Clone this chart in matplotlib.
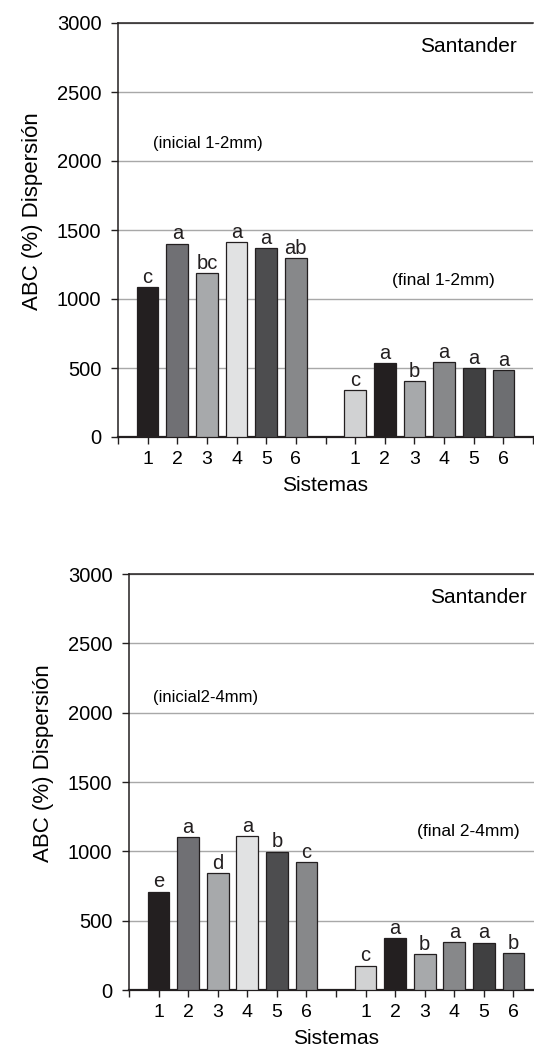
import numpy as np
import matplotlib.pyplot as plt

plt.rcParams['font.family'] = ['Liberation Sans', 'DejaVu Sans']

sistemas = ['1', '2', '3', '4', '5', '6']

# panel 1-2 mm
ini_12 = [1087, 1402, 1190, 1412, 1369, 1296]
fin_12 = [337, 537, 405, 540, 501, 482]
let_ini_12 = ['c', 'a', 'bc', 'a', 'a', 'ab']
let_fin_12 = ['c', 'a', 'b', 'a', 'a', 'a']

# panel 2-4 mm
ini_24 = [710, 1104, 842, 1107, 998, 921]
fin_24 = [176, 375, 262, 346, 342, 269]
let_ini_24 = ['e', 'a', 'd', 'a', 'b', 'c']
let_fin_24 = ['c', 'a', 'b', 'a', 'a', 'b']

col_ini = ['#231f20', '#707074', '#a7a9ab', '#e1e2e3', '#4d4d4f', '#87888a']
col_fin = ['#d1d2d3', '#231f20', '#a7a9ab', '#87888a', '#404041', '#6d6e71']
dark = '#231f20'


def panel(ax, ini, fin, let_ini, let_fin, lab_ini, lab_fin, pos_ini, pos_fin):
    x1 = np.arange(1, 7)
    x2 = np.arange(8, 14)
    ax.bar(x1, ini, width=0.73, color=col_ini, edgecolor=dark, linewidth=0.9, zorder=3)
    ax.bar(x2, fin, width=0.73, color=col_fin, edgecolor=dark, linewidth=0.9, zorder=3)
    for x, v, l in list(zip(x1, ini, let_ini)) + list(zip(x2, fin, let_fin)):
        ax.annotate(l, (x, v), xytext=(0, 3), textcoords='offset points',
                    ha='center', va='baseline', fontsize=14.5, color=dark)

    ax.set_xlim(0, 14)
    ax.set_ylim(0, 3000)
    ax.set_yticks(np.arange(0, 3001, 500))
    ax.set_xticks(list(x1) + list(x2))
    ax.set_xticklabels(sistemas + sistemas, fontsize=14)
    ax.set_xticks([0, 7, 14], minor=True)
    ax.tick_params(axis='x', which='both', direction='out', length=5, width=1, pad=5, color=dark)
    ax.tick_params(axis='y', direction='out', length=5, width=1, pad=7, labelsize=14.5, color=dark)
    ax.yaxis.grid(True, color='#a8a8a8', linewidth=1, zorder=0)
    ax.spines['right'].set_visible(False)
    for s in ['left', 'top']:
        ax.spines[s].set_color(dark)
        ax.spines[s].set_linewidth(1.1)
    ax.spines['bottom'].set_color(dark)
    ax.spines['bottom'].set_linewidth(1.6)
    ax.set_ylabel('ABC (%) Dispersión', fontsize=16)
    ax.yaxis.set_label_coords(-0.181, 0.545)
    ax.set_xlabel('Sistemas', fontsize=15)
    ax.xaxis.set_label_coords(0.5, -0.094)

    ax.text(0.96, 0.931, 'Santander', transform=ax.transAxes, ha='right', va='baseline', fontsize=15)
    ax.text(pos_ini[0], pos_ini[1], lab_ini, transform=ax.transAxes, ha='left', va='center', fontsize=12)
    ax.text(pos_fin[0], pos_fin[1], lab_fin, transform=ax.transAxes, ha='left', va='center', fontsize=12.5)


W, H = 534, 1057
fig = plt.figure(figsize=(W / 100, H / 100), dpi=100)
ax1 = fig.add_axes([118 / W, 1 - 437 / H, 415 / W, 414 / H])
ax2 = fig.add_axes([129 / W, 1 - 990 / H, 414 / W, 416 / H])

panel(ax1, ini_12, fin_12, let_ini_12, let_fin_12, '(inicial 1-2mm)', '(final 1-2mm)',
      (0.084, 0.708), (0.661, 0.377))
panel(ax2, ini_24, fin_24, let_ini_24, let_fin_24, '(inicial2-4mm)', '(final 2-4mm)',
      (0.058, 0.704), (0.696, 0.380))

fig.savefig('out.png', dpi=100)
